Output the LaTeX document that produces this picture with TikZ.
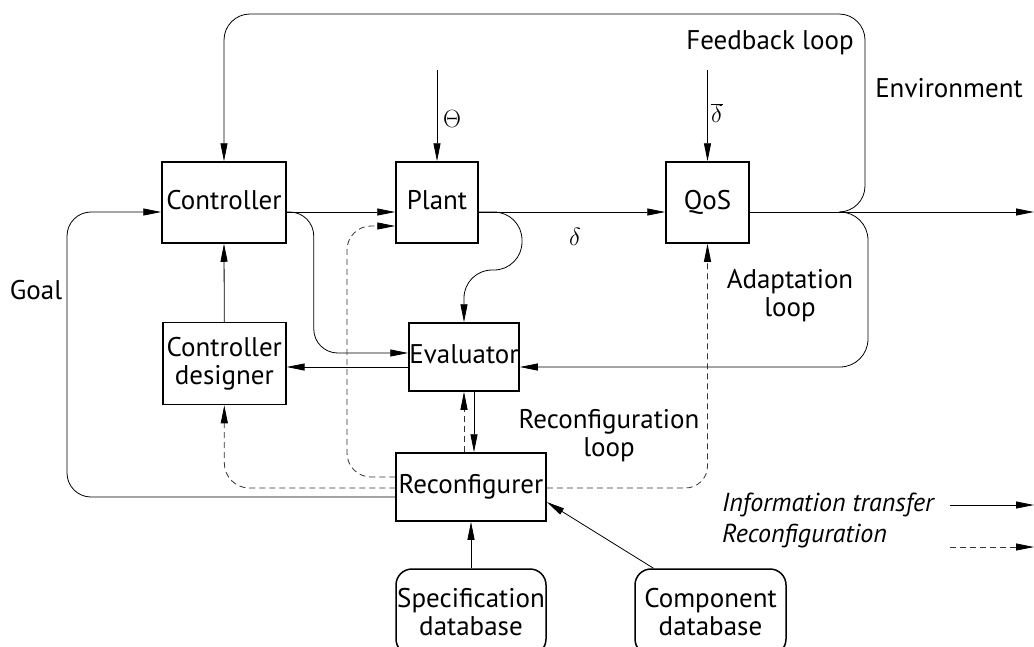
\documentclass[tikz,border=0pt]{standalone}
\usepackage{fontspec}
\setmainfont{PT Sans}
\usetikzlibrary{arrows.meta}
\begin{document}
\begin{tikzpicture}[x=1pt,y=-1pt,
  font=\fontsize{27}{30}\selectfont,
  bx/.style={draw, line width=1.5pt, inner sep=0pt},
  blk/.style={bx, text height=19pt, text depth=6pt},
  dbk/.style={draw, line width=1.5pt, inner sep=0pt, rounded corners=16pt, align=center, minimum width=150pt, minimum height=86pt},
  lbl/.style={inner sep=0pt, align=center},
  arr/.style={line width=0.8pt, -{Triangle[length=18pt,width=7pt]}},
  darr/.style={line width=0.8pt, dash pattern=on 6pt off 4pt, draw=black!80, -{Triangle[length=18pt,width=7pt,color=black]}}
]
\useasboundingbox (0,0) rectangle (1034,646);

% blocks
\node[blk, minimum width=124pt, minimum height=81pt] (ctrl) at (224,202.5) {Controller};
\node[blk, minimum width=82pt, minimum height=81pt] (plant) at (437,202.5) {Plant};
\node[blk, minimum width=83pt, minimum height=81pt] (qos) at (707.5,202.5) {QoS};
\node[bx, minimum width=123pt, minimum height=82pt, align=center] (cd) at (224.3,363.5) {Controller\\[-2pt]designer};
\node[blk, minimum width=110pt, minimum height=68pt] (eval) at (464,357) {Evaluator};
\node[blk, minimum width=150pt, minimum height=68pt] (rec) at (471,487) {Reconfigurer};
\node[dbk] (sdb) at (471,612) {Specification\\[-2pt]database};
\node[dbk, minimum width=151pt] (cdb) at (710.5,612) {Component\\[-2pt]database};

% helper coordinates
\coordinate (jn) at (840,212);
\coordinate (out) at (1034,212);
\coordinate (top) at (0,14);
\coordinate (gl) at (67,212);
\coordinate (pr) at (522,270);
\coordinate (rp) at (347,226);
\coordinate (thtop) at (437,70);
\coordinate (dbtop) at (707.5,70);
\coordinate (e367) at ([yshift=-10pt]eval.west);
\coordinate (cE) at ([yshift=4pt]eval.west);
\coordinate (er) at ([xshift=10pt]eval.south);

% main chain
\draw[arr] ([yshift=-9.5pt]ctrl.east) -- ([yshift=-9.5pt]plant.west);
\draw[arr] ([yshift=-9.5pt]plant.east) -- ([yshift=-9.5pt]qos.west);
\draw[arr] ([yshift=-9.5pt]qos.east) -- (out);
\draw[arr] (thtop) -- (plant.north);
\draw[arr] (dbtop) -- (qos.north);

% environment / feedback loop
\draw[arr, rounded corners=26pt] (jn) -- ++(25,0) |- (ctrl.north |- top) -- (ctrl.north);
% adaptation loop
\draw[arr, rounded corners=28pt] (jn) -- ++(28,0) |- ([yshift=-10pt]eval.east);
% goal
\draw[arr, rounded corners=24pt] ([yshift=-10pt]rec.west) -| (gl) -- ([yshift=-9.5pt]ctrl.west);
% designer -> controller
\draw[arr] (cd.north) -- (ctrl.south);
% evaluator -> designer
\draw[arr] (e367) -- (e367 -| cd.east);
% controller -> evaluator
\draw[arr, rounded corners=24pt] ([yshift=-9.5pt]ctrl.east) -- ++(27,0) |- (cE);
% plant -> evaluator
\draw[arr, rounded corners=28pt] ([yshift=-9.5pt]plant.east) -| (pr) -| (eval.north);
% evaluator -> reconfigurer
\draw[arr] (er) -- (er |- rec.north);
% reconfigurer -> evaluator (dashed)
\draw[darr] (eval.south |- rec.north) -- (eval.south);
% reconfigurer -> plant (dashed)
\draw[darr, rounded corners=24pt] ([yshift=10pt]rec.west) -| (rp) -- ([yshift=-23.5pt]plant.west);
% reconfigurer -> controller designer (dashed)
\draw[darr, rounded corners=25pt] ([yshift=-1pt]rec.west) -| (cd.south);
% reconfigurer -> QoS (dashed)
\draw[darr, rounded corners=22pt] ([yshift=-1pt]rec.east) -| (qos.south);
% databases -> reconfigurer
\draw[arr] (sdb.north) -- (rec.south);
\draw[arr] ([xshift=-57pt]cdb.north) -- ([yshift=-15pt]rec.east);

% labels
\node[lbl] (lth) at (452,119) {$\Theta$};
\node[lbl] (ldb) at (717,113) {$\overline{\delta}$};
\node[lbl] (ld) at (575,237) {$\delta$};
\node[lbl] (lfb) at (770,43) {Feedback loop};
\node[lbl] (lenv) at (949,88) {Environment};
\node[lbl] (lgoal) at (36,290) {Goal};
\node[lbl] (lad) at (790,296) {Adaptation\\[-2pt]loop};
\node[lbl] (lrc) at (609,436) {Reconfiguration\\[-2pt]loop};

% legend
\node[lbl, anchor=west, font=\fontsize{26}{30}\selectfont\itshape] (lit) at (722,505) {Information transfer};
\node[lbl, anchor=west, font=\fontsize{26}{30}\selectfont\itshape] (lrt) at (722,536) {Reconfiguration};
\coordinate (l1a) at (950,505);
\coordinate (l1b) at (1034,505);
\coordinate (l2a) at (950,547);
\coordinate (l2b) at (1034,547);
\draw[arr] (l1a) -- (l1b);
\draw[darr] (l2a) -- (l2b);
\end{tikzpicture}
\end{document}
